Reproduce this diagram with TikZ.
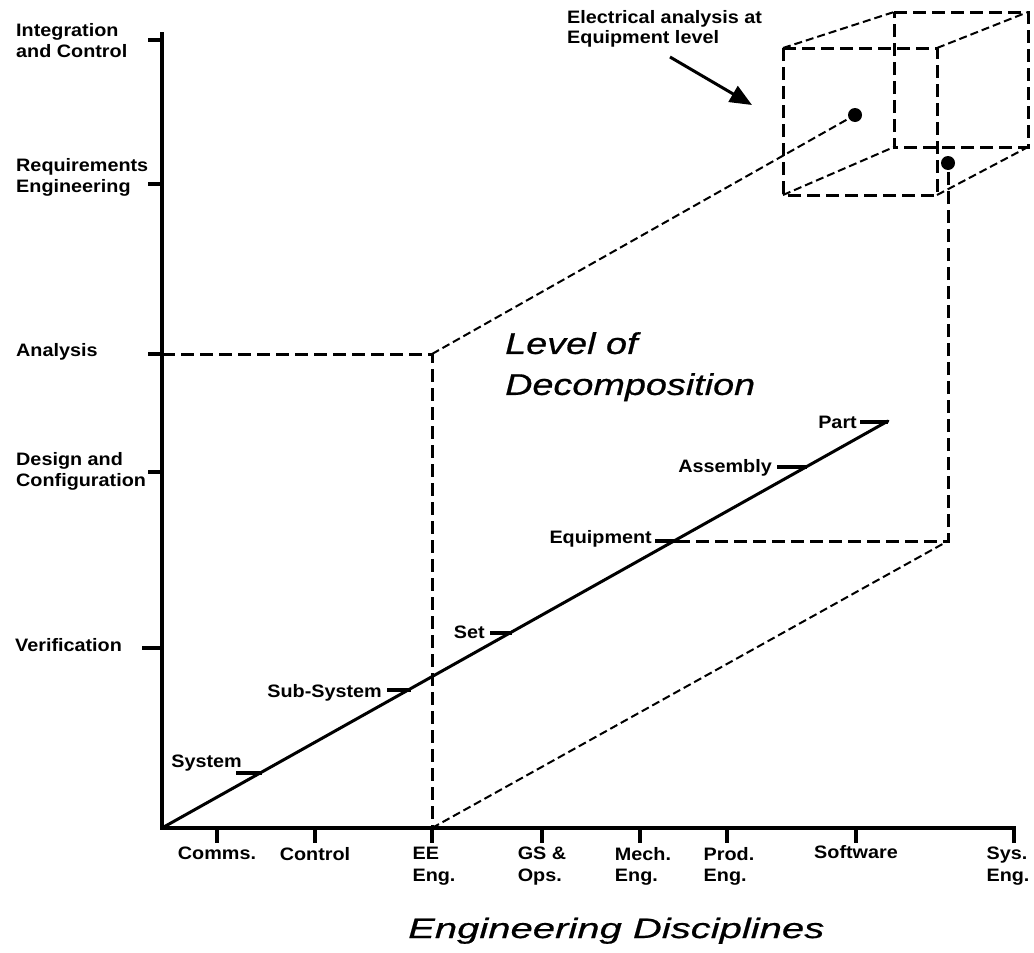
\documentclass[tikz,border=0pt]{standalone}
\usepackage{fontspec}
\setmainfont{Liberation Sans}
\newfontfamily\lblfont{Liberation Sans}[FakeStretch=1.1]
\newfontfamily\titlefont{Liberation Sans}[FakeStretch=1.26, FakeBold=0.6]
\newfontfamily\axisfont{Liberation Sans}[FakeStretch=1.43, FakeBold=0.6]
\usetikzlibrary{arrows.meta}

\tikzset{
  axisline/.style={line width=4pt, line join=miter},
  tickmark/.style={line width=4pt},
  levelline/.style={line width=3pt, line cap=round},
  guide/.style={line width=3pt, dash pattern=on 13pt off 6pt},
  slant/.style={line width=2pt, dash pattern=on 8pt off 4pt},
  lbl/.style={font=\lblfont\bfseries\fontsize{18}{21.5}\selectfont, inner sep=0pt, align=left},
  title/.style={font=\titlefont\itshape\fontsize{30}{41}\selectfont, inner sep=0pt, align=left},
  axtitle/.style={font=\axisfont\itshape\fontsize{28}{34}\selectfont, inner sep=0pt},
  dot/.style={circle, fill=black, minimum size=14pt, inner sep=0pt},
}

\begin{document}
\begin{tikzpicture}[x=1pt, y=-1pt]
\useasboundingbox (0,0) rectangle (1034,953);

% ---- axes -------------------------------------------------------------
\coordinate (ytop) at (162,32);
\coordinate (O)    at (162,828);
\coordinate (xend) at (1016,828);
\draw[axisline] (ytop) -- (O) -- (xend);

% ticks on the vertical axis
\coordinate (tInt) at (162,40);
\coordinate (tReq) at (162,184);
\coordinate (tAna) at (162,354);
\coordinate (tDes) at (162,472);
\coordinate (tVer) at (162,648);
\draw[tickmark] (tInt) -- ++(-14,0);
\draw[tickmark] (tReq) -- ++(-14,0);
\draw[tickmark] (tAna) -- ++(-14,0);
\draw[tickmark] (tDes) -- ++(-14,0);
\draw[tickmark] (tVer) -- ++(-20,0);

\node[lbl, anchor=north west] (lInt) at (16,23)  {Integration\\and Control};
\node[lbl, anchor=north west] (lReq) at (16,158) {Requirements\\Engineering};
\node[lbl, anchor=north west] (lAna) at (16,343) {Analysis};
\node[lbl, anchor=north west] (lDes) at (16,452) {Design and\\Configuration};
\node[lbl, anchor=north west] (lVer) at (15,638) {Verification};

% ticks on the horizontal axis
\foreach \name/\x in {Com/217, Con/315, EE/432, GS/542, Mec/640, Pro/727, Sof/856, Sys/1014}{
  \coordinate (x\name) at (\x,828);
  \draw[tickmark] (x\name) -- ++(0,15);
}
\node[lbl, anchor=north] (lCom) at (217,847) {Comms.};
\node[lbl, anchor=north] (lCon) at (315,847) {Control};
\node[lbl, anchor=north] (lEE)  at (434,847) {EE\\Eng.};
\node[lbl, anchor=north] (lGS)  at (542,847) {GS \&\\Ops.};
\node[lbl, anchor=north] (lMec) at (643,847) {Mech.\\Eng.};
\node[lbl, anchor=north] (lPro) at (729,847) {Prod.\\Eng.};
\node[lbl, anchor=north] (lSof) at (856,845) {Software};
\node[lbl, anchor=north] (lSys) at (1008,847) {Sys.\\Eng.};

\node[axtitle, anchor=base west] (xtitle) at (408,938) {Engineering Disciplines};

% ---- decomposition line --------------------------------------------------
\coordinate (P) at (888,421);
\draw[levelline] (O) -- (P);

\draw[tickmark] (236,773) -- (262,773);
\draw[tickmark] (387,690) -- (411,690);
\draw[tickmark] (490,633) -- (512,633);
\draw[tickmark] (655,541) -- (677,541);
\draw[tickmark] (777,467) -- (807,467);
\draw[tickmark] (860,422) -- (888,422);

\node[lbl, anchor=base east] (lSystem) at (242,767) {System};
\node[lbl, anchor=base east] (lSub)    at (382,697) {Sub-System};
\node[lbl, anchor=base east] (lSet)    at (485,638) {Set};
\node[lbl, anchor=base east] (lEq)     at (652,543) {Equipment};
\node[lbl, anchor=base east] (lAsm)    at (772,472) {Assembly};
\node[lbl, anchor=base east] (lPart)   at (857,428) {Part};

\node[title, anchor=north west] (ltitle) at (505,332) {Level of\\Decomposition};

% ---- projection guides ------------------------------------------------------
\coordinate (A)  at (432,354);
\coordinate (Ab) at (432,828);
\coordinate (Eq) at (677,541);
\coordinate (Q)  at (948,541);
\node[dot] (dotA) at (855,115) {};
\node[dot] (dotB) at (948,163) {};

\draw[guide] (tAna) -- (A) -- (Ab);
\draw[guide] (Eq) -- (Q) -- (dotB);
\draw[slant] (A) -- (dotA.center);
\draw[slant] (Ab) -- (Q);

% ---- equipment cube -------------------------------------------------------------
\coordinate (f1) at (783,48);
\coordinate (f2) at (937,48);
\coordinate (f3) at (937,195);
\coordinate (f4) at (783,195);
\coordinate (b1) at (894,12);
\coordinate (b2) at (1028,12);
\coordinate (b3) at (1028,147);
\coordinate (b4) at (894,147);
\draw[guide] (f1) -- (f2) -- (f3) -- (f4) -- cycle;
\draw[guide] (b1) -- (b2) -- (b3) -- (b4) -- cycle;
\draw[slant] (f1) -- (b1);
\draw[slant] (f2) -- (b2);
\draw[slant] (f3) -- (b3);
\draw[slant] (f4) -- (b4);

% ---- annotation -----------------------------------------------------------------
\node[lbl, anchor=north west, font=\lblfont\bfseries\fontsize{18}{20}\selectfont] (note) at (567,10) {Electrical analysis at\\Equipment level};
\coordinate (arrS) at (670,57);
\coordinate (arrE) at (752,105);
\draw[line width=3pt, -{Triangle[length=22pt,width=18pt]}] (arrS) -- (arrE);

\end{tikzpicture}
\end{document}
